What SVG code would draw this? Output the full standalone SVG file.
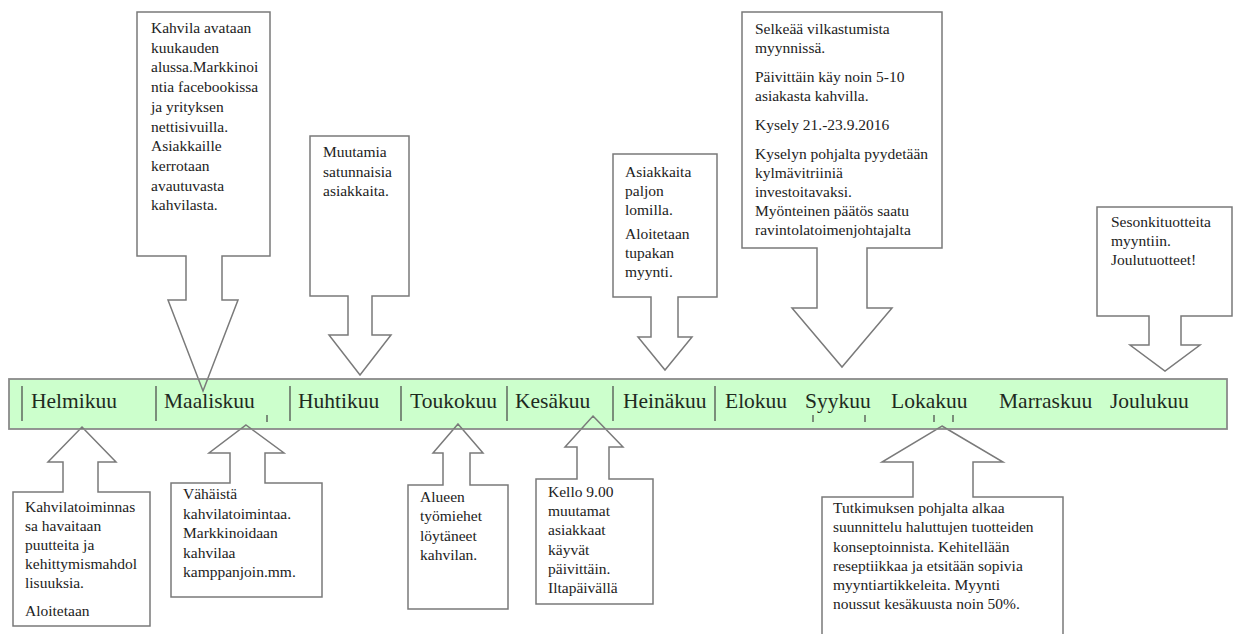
<svg xmlns="http://www.w3.org/2000/svg" xmlns:xlink="http://www.w3.org/1999/xlink" width="1236" height="634" viewBox="0 0 1236 634">
<style>
.co{fill:#fff;stroke:#7a7a7a;stroke-width:1.5;stroke-linejoin:miter}
.coline{fill:none;stroke:#7a7a7a;stroke-width:1.5}
.t{font-family:"Liberation Serif","Times New Roman",serif;font-size:15.5px;fill:#222}
.m{font-family:"Liberation Serif","Times New Roman",serif;font-size:21.5px;fill:#1e2a1e}
.tick{stroke:#444;stroke-width:1.2}
.bar{fill:#ccffcc;stroke:#8a8a8a;stroke-width:1.8}
</style>
<defs>
<path id="p1" d="M137,12 H270 V256 H222 V300 H238 L203,391 L168,300 H186 V256 H137 Z"/>
<path id="p2" d="M310,136 H409 V296 H372 V335 H391 L360,375 L329,335 H348 V296 H310 Z"/>
<path id="p3" d="M613,154 H717 V297 H678 V337 H692 L665,370 L638,337 H651 V297 H613 Z"/>
<path id="p4" d="M742,12 H942 V248 H867 V308 H892 L842,367 L792,308 H817 V248 H742 Z"/>
<path id="p5" d="M1097,207 H1232 V316 H1181 V345 H1200 L1165,371 L1130,345 H1149 V316 H1097 Z"/>
<path id="p6" d="M82,427 L116,462 H98 V492 H150 V626 H13 V492 H63 V462 H48 Z"/>
<path id="p7" d="M246,425 L284,453 H265 V483 H322 V597 H171 V483 H230 V453 H209 Z"/>
<path id="p8" d="M458,424 L483,453 H470 V485 H508 V609 H408 V485 H443 V453 H433 Z"/>
<path id="p9" d="M593,416 L623,447 H609 V479 H653 V604 H536 V479 H577 V447 H565 Z"/>
<path id="p10" d="M942,426 L1003,462 H973 V497 H1063 V640 H822 V497 H913 V462 H882 Z"/>
<clipPath id="barclip"><rect x="9" y="379" width="1218" height="50"/></clipPath>
</defs>

<g id="callout-maaliskuu-top">
<use xlink:href="#p1" class="co"/>
<text class="t" x="151"><tspan x="151" y="33">Kahvila avataan</tspan><tspan x="151" y="52.7">kuukauden</tspan><tspan x="151" y="72.4">alussa.Markkinoi</tspan><tspan x="151" y="92.1">ntia facebookissa</tspan><tspan x="151" y="111.8">ja yrityksen</tspan><tspan x="151" y="131.5">nettisivuilla.</tspan><tspan x="151" y="151.2">Asiakkaille</tspan><tspan x="151" y="170.9">kerrotaan</tspan><tspan x="151" y="190.6">avautuvasta</tspan><tspan x="151" y="210.3">kahvilasta.</tspan></text>
</g>
<g id="callout-huhtikuu-top">
<use xlink:href="#p2" class="co"/>
<text class="t"><tspan x="323" y="157">Muutamia</tspan><tspan x="323" y="176.5">satunnaisia</tspan><tspan x="323" y="196">asiakkaita.</tspan></text>
</g>
<g id="callout-heinakuu-top">
<use xlink:href="#p3" class="co"/>
<text class="t"><tspan x="625" y="177">Asiakkaita</tspan><tspan x="625" y="196">paljon</tspan><tspan x="625" y="215">lomilla.</tspan><tspan x="625" y="239">Aloitetaan</tspan><tspan x="625" y="258">tupakan</tspan><tspan x="625" y="277">myynti.</tspan></text>
</g>
<g id="callout-syykuu-top">
<use xlink:href="#p4" class="co"/>
<text class="t"><tspan x="755" y="34">Selkeää vilkastumista</tspan><tspan x="755" y="53">myynnissä.</tspan><tspan x="755" y="82">Päivittäin käy noin 5-10</tspan><tspan x="755" y="101">asiakasta kahvilla.</tspan><tspan x="755" y="130">Kysely 21.-23.9.2016</tspan><tspan x="755" y="159">Kyselyn pohjalta pyydetään</tspan><tspan x="755" y="178">kylmävitriiniä</tspan><tspan x="755" y="197">investoitavaksi.</tspan><tspan x="755" y="216">Myönteinen päätös saatu</tspan><tspan x="755" y="235">ravintolatoimenjohtajalta</tspan></text>
</g>
<g id="callout-joulukuu-top">
<use xlink:href="#p5" class="co"/>
<text class="t"><tspan x="1111" y="227">Sesonkituotteita</tspan><tspan x="1111" y="246">myyntiin.</tspan><tspan x="1111" y="265">Joulutuotteet!</tspan></text>
</g>

<g id="callout-helmikuu-bottom">
<use xlink:href="#p6" class="co"/>
<text class="t"><tspan x="25" y="512">Kahvilatoiminnas</tspan><tspan x="25" y="531">sa havaitaan</tspan><tspan x="25" y="550">puutteita ja</tspan><tspan x="25" y="569">kehittymismahdol</tspan><tspan x="25" y="588">lisuuksia.</tspan><tspan x="25" y="616">Aloitetaan</tspan></text>
</g>
<g id="callout-maaliskuu-bottom">
<use xlink:href="#p7" class="co"/>
<text class="t"><tspan x="183" y="499">Vähäistä</tspan><tspan x="183" y="518.5">kahvilatoimintaa.</tspan><tspan x="183" y="538">Markkinoidaan</tspan><tspan x="183" y="557.5">kahvilaa</tspan><tspan x="183" y="577">kamppanjoin.mm.</tspan></text>
</g>
<g id="callout-toukokuu-bottom">
<use xlink:href="#p8" class="co"/>
<text class="t"><tspan x="420" y="502">Alueen</tspan><tspan x="420" y="521">työmiehet</tspan><tspan x="420" y="540.5">löytäneet</tspan><tspan x="420" y="560">kahvilan.</tspan></text>
</g>
<g id="callout-kesakuu-bottom">
<use xlink:href="#p9" class="co"/>
<text class="t"><tspan x="548" y="497">Kello 9.00</tspan><tspan x="548" y="516">muutamat</tspan><tspan x="548" y="535">asiakkaat</tspan><tspan x="548" y="554.5">käyvät</tspan><tspan x="548" y="574">päivittäin.</tspan><tspan x="548" y="593">Iltapäivällä</tspan></text>
</g>
<g id="callout-lokakuu-bottom">
<use xlink:href="#p10" class="co"/>
<text class="t"><tspan x="833" y="513">Tutkimuksen pohjalta alkaa</tspan><tspan x="833" y="532">suunnittelu haluttujen tuotteiden</tspan><tspan x="833" y="552">konseptoinnista. Kehitellään</tspan><tspan x="833" y="571">reseptiikkaa ja etsitään sopivia</tspan><tspan x="833" y="590">myyntiartikkeleita. Myynti</tspan><tspan x="833" y="609">noussut kesäkuusta noin 50%.</tspan></text>
</g>

<g id="timeline">
<rect class="bar" x="9" y="379" width="1218" height="50"/>
<g class="tick">
<line x1="22" y1="386" x2="22" y2="421"/>
<line x1="156" y1="386" x2="156" y2="421"/>
<line x1="290" y1="386" x2="290" y2="421"/>
<line x1="401" y1="386" x2="401" y2="421"/>
<line x1="507" y1="386" x2="507" y2="421"/>
<line x1="613" y1="386" x2="613" y2="421"/>
<line x1="715" y1="386" x2="715" y2="421"/>
<line x1="267" y1="415" x2="267" y2="422"/>
<line x1="813" y1="415" x2="813" y2="422"/>
<line x1="865" y1="415" x2="865" y2="422"/>
<line x1="934" y1="415" x2="934" y2="422"/>
<line x1="953" y1="415" x2="953" y2="422"/>
</g>
<text class="m" x="31" y="408">Helmikuu</text>
<text class="m" x="164" y="408">Maaliskuu</text>
<text class="m" x="298" y="408">Huhtikuu</text>
<text class="m" x="410" y="408">Toukokuu</text>
<text class="m" x="515" y="408">Kesäkuu</text>
<text class="m" x="623" y="408">Heinäkuu</text>
<text class="m" x="725" y="408">Elokuu</text>
<text class="m" x="805" y="408">Syykuu</text>
<text class="m" x="891" y="408">Lokakuu</text>
<text class="m" x="999" y="408">Marraskuu</text>
<text class="m" x="1110" y="408">Joulukuu</text>
</g>

<g id="connectors" clip-path="url(#barclip)">
<use xlink:href="#p1" class="coline"/>
<use xlink:href="#p6" class="coline"/>
<use xlink:href="#p7" class="coline"/>
<use xlink:href="#p8" class="coline"/>
<use xlink:href="#p9" class="coline"/>
<use xlink:href="#p10" class="coline"/>
</g>
</svg>
